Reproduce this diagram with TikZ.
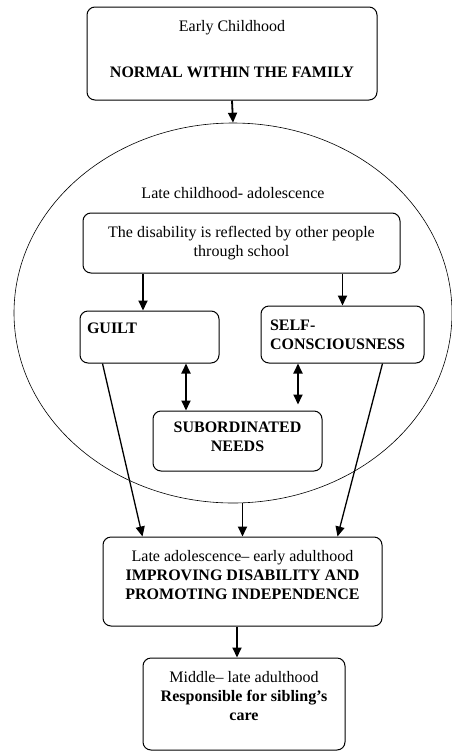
\documentclass[tikz,border=0pt]{standalone}
\usepackage{fontspec}
\setmainfont{Liberation Serif}
\usepackage{tikz}
\usetikzlibrary{shapes.geometric,arrows.meta,positioning,calc}

\begin{document}
\begin{tikzpicture}[x=1pt, y=-1pt,
    box/.style={draw, rounded corners=8pt, line width=1pt, align=center, inner sep=0pt},
    arr/.style={-{Triangle[length=10pt,width=9pt]}, line width=1.8pt},
    dblarr/.style={{Triangle[length=10pt,width=9pt]}-{Triangle[length=10pt,width=9pt]}, line width=1.8pt},
    font=\fontsize{16}{19}\selectfont]
    \useasboundingbox (0,0) rectangle (451,753);

    \node[draw, ellipse, minimum width=438pt, minimum height=380pt, line width=0.6pt] (phase) at (233,313) {};
    \node (phaselabel) at (233,193) {Late childhood- adolescence};

    \node[box, minimum width=290pt, minimum height=93pt, text depth=10pt] (early) at (232,53.5)
        {Early Childhood\\[27pt]\textbf{NORMAL WITHIN THE FAMILY}};
    \node[box, minimum width=317pt, minimum height=60pt] (disab) at (241.5,243)
        {The disability is reflected by other people\\through school};
    \node[box, minimum width=139pt, minimum height=52pt, text width=125pt, align=left, text depth=17pt] (guilt) at (149.5,337)
        {\textbf{GUILT}};
    \node[box, minimum width=163pt, minimum height=57pt, text width=145pt, align=left] (self) at (342.5,334.5)
        {\textbf{SELF-}\\\textbf{CONSCIOUSNESS}};
    \node[box, minimum width=169pt, minimum height=60pt, text depth=9pt] (subord) at (237.5,441)
        {\textbf{SUBORDINATED}\\\textbf{NEEDS}};
    \node[box, minimum width=279pt, minimum height=89pt, text depth=14pt] (improve) at (242.5,581.5)
        {Late adolescence– early adulthood\\\textbf{IMPROVING DISABILITY AND}\\\textbf{PROMOTING INDEPENDENCE}};
    \node[box, minimum width=202pt, minimum height=92pt, text depth=17pt] (resp) at (244,704)
        {Middle– late adulthood\\\textbf{Responsible for sibling’s}\\\textbf{care}};

    \coordinate (gtop) at ([xshift=-6.5pt]guilt.north);
    \coordinate (gl) at ([xshift=-51.5pt]subord.north);
    \coordinate (sr) at ([xshift=60.5pt,yshift=6pt]subord.north);
    \coordinate (rtop) at ([xshift=-7pt]resp.north);

    \draw[arr] (early.south) -- (phase.north);
    \draw[arr] (disab.south -| gtop) -- (gtop);
    \draw[arr] (disab.south -| self.north) -- (self.north);
    \draw[dblarr] (guilt.south -| gl) -- (gl);
    \draw[dblarr] (self.south -| sr) -- (sr);
    \draw[arr, line width=1.3pt] ([xshift=23pt]guilt.south west) -- ([xshift=40pt]improve.north west);
    \draw[arr] (phase.south -| improve.north) -- (improve.north);
    \draw[arr, line width=1.3pt] ([xshift=-42pt]self.south east) -- ([xshift=-45pt]improve.north east);
    \draw[arr] (improve.south -| rtop) -- (rtop);
\end{tikzpicture}
\end{document}
